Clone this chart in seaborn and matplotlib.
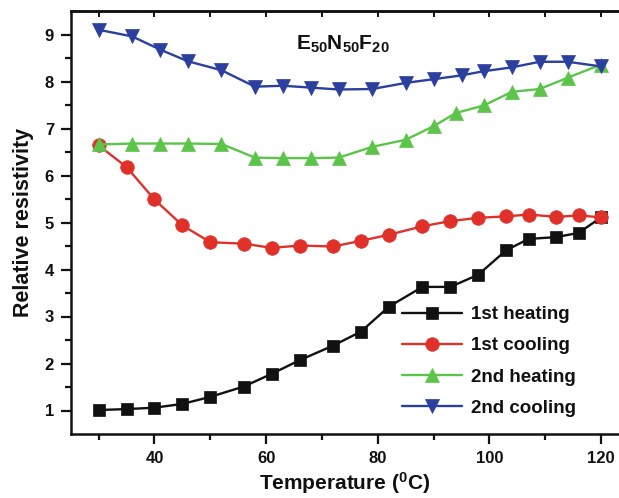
import matplotlib
matplotlib.use("Agg")
import matplotlib.pyplot as plt
import seaborn as sns
import pandas as pd

# ---- data ----
temp_1st = [30, 35, 40, 45, 50, 56, 61, 66, 72, 77, 82, 88, 93, 98, 103, 107, 112, 116, 120]
heat_1st = [1.01, 1.03, 1.06, 1.14, 1.29, 1.51, 1.78, 2.07, 2.38, 2.68, 3.21, 3.63, 3.63,
            3.89, 4.41, 4.65, 4.69, 4.78, 5.11]
cool_1st = [6.64, 6.18, 5.49, 4.94, 4.58, 4.55, 4.46, 4.51, 4.49, 4.61, 4.74, 4.92, 5.03,
            5.10, 5.13, 5.17, 5.12, 5.15, 5.11]
temp_heat2 = [30, 36, 41, 46, 52, 58, 63, 68, 73, 79, 85, 90, 94, 99, 104, 109, 114, 120]
heat_2nd = [6.66, 6.68, 6.68, 6.68, 6.67, 6.38, 6.37, 6.37, 6.38, 6.61, 6.76, 7.05, 7.33,
            7.49, 7.78, 7.84, 8.08, 8.36]
temp_cool2 = [30, 36, 41, 46, 52, 58, 63, 68, 73, 79, 85, 90, 95, 99, 104, 109, 114, 120]
cool_2nd = [9.10, 8.96, 8.68, 8.43, 8.24, 7.89, 7.91, 7.87, 7.83, 7.84, 7.97, 8.05, 8.13,
            8.22, 8.30, 8.42, 8.42, 8.32]

series_names = ["1st heating", "1st cooling", "2nd heating", "2nd cooling"]
x_ticks = [40, 60, 80, 100, 120]
y_ticks = [1, 2, 3, 4, 5, 6, 7, 8, 9]

colors = ["#111111", "#e0302a", "#5cc44a", "#2b3f9e"]
markers = ["s", "o", "^", "v"]
msizes = [8.8, 9.8, 10.5, 10.5]

sns.set_style("ticks")
plt.rcParams["font.family"] = ["Liberation Sans", "DejaVu Sans"]
plt.rcParams["font.weight"] = "bold"
plt.rcParams["mathtext.fontset"] = "custom"
plt.rcParams["mathtext.rm"] = "Liberation Sans:bold"
plt.rcParams["mathtext.bf"] = "Liberation Sans:bold"
plt.rcParams["mathtext.it"] = "Liberation Sans:bold"

fig = plt.figure(figsize=(6.19, 4.98), dpi=100)
W, H = 619, 498
ax = fig.add_axes([70.7 / W, 1 - 434 / H, (W - 70.7) / W, (434 - 11) / H])

data = [(temp_1st, heat_1st), (temp_1st, cool_1st), (temp_heat2, heat_2nd), (temp_cool2, cool_2nd)]
for (t, v), name, c, m, ms in zip(data, series_names, colors, markers, msizes):
    df = pd.DataFrame({"T": t, "R": v})
    sns.lineplot(data=df, x="T", y="R", ax=ax, color=c, marker=m, markersize=ms,
                 markeredgecolor=c, markeredgewidth=0.5, linewidth=1.7, label=name)

ax.set_xlim(25, 123.2)
ax.set_ylim(0.5, 9.5)
ax.set_xticks(x_ticks)
ax.set_xticks([30, 50, 70, 90, 110], minor=True)
ax.set_yticks(y_ticks)
ax.set_yticks([1.5, 2.5, 3.5, 4.5, 5.5, 6.5, 7.5, 8.5], minor=True)
ax.tick_params(axis="both", which="major", direction="out", length=7, width=1.6,
               labelsize=12, pad=5, color="#111111", labelcolor="#111111")
ax.tick_params(axis="both", which="minor", direction="out", length=4, width=1.6,
               color="#111111")
for lbl in ax.get_xticklabels() + ax.get_yticklabels():
    lbl.set_fontweight("bold")

for s in ["left", "bottom", "top"]:
    ax.spines[s].set_linewidth(1.8)
    ax.spines[s].set_color("#111111")
ax.spines["right"].set_visible(False)

sec = ax.secondary_xaxis("top")
sec.set_xticks([30, 40, 50, 60, 70, 80, 90, 100, 110, 120])
sec.tick_params(direction="in", length=4, width=1.4, labeltop=False, color="#111111")
sec.spines["top"].set_linewidth(1.8)
sec.spines["top"].set_color("#111111")

ax.set_xlabel(r"Temperature ($^{0}$C)", fontsize=15, fontweight="bold", color="#111111", labelpad=3)
ax.set_ylabel("Relative resistivity", fontsize=15.5, fontweight="bold", color="#111111", labelpad=8)

fig.text(343 / W, 1 - 44 / H, r"$\mathbf{E_{50}N_{50}F_{20}}$", ha="center", va="center",
         fontsize=15, color="#111111")

leg = ax.legend(loc="center left", bbox_to_anchor=(402 / W, 1 - 361.5 / H),
                bbox_transform=fig.transFigure, frameon=False, fontsize=13.5,
                handlelength=3.2, handletextpad=0.5, labelspacing=0.75, borderpad=0,
                borderaxespad=0)
for txt in leg.get_texts():
    txt.set_fontweight("bold")
    txt.set_color("#111111")

fig.savefig("out.png", dpi=100)
